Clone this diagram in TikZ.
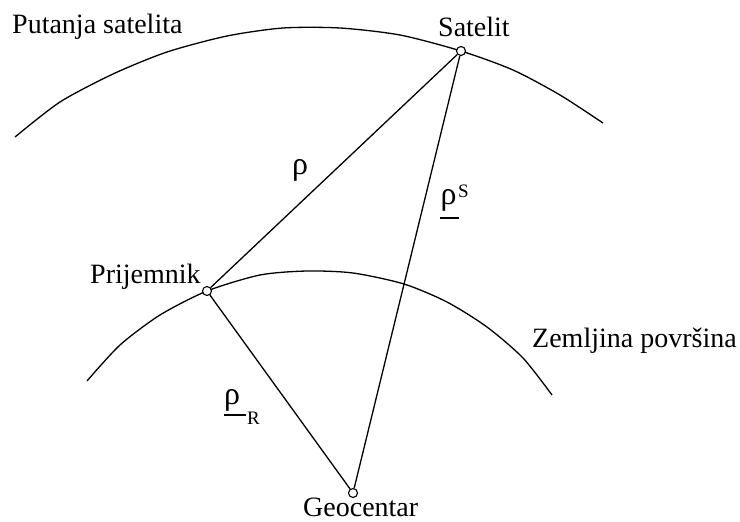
\documentclass[tikz,border=0pt]{standalone}
\usepackage{fontspec}
\setmainfont{Liberation Serif}
\begin{document}
\begin{tikzpicture}[x=1pt,y=-1pt,
  curve/.style={line width=1.3pt, line join=round},
  conn/.style={line width=1.3pt},
  dot/.style={circle, draw, fill=white, line width=1.1pt, minimum size=9pt, inner sep=0pt},
  txt/.style={inner sep=0pt, font=\fontsize{28}{30}\selectfont},
  lbl/.style={inner sep=0pt, font=\fontsize{32}{34}\selectfont},
  suplbl/.style={inner sep=0pt, font=\fontsize{19}{21}\selectfont},
  uline/.style={line width=1.3pt}]
\useasboundingbox (0,0) rectangle (740,522);
% satellite orbit
\draw[curve] plot[smooth, tension=0.45] coordinates {(15,137) (60,102) (113,74) (167,52) (227,36) (283,28) (340,28) (400,35) (461,51) (513,70) (560,95) (603,123)};
% Earth surface
\draw[curve] plot[smooth, tension=0.45] coordinates {(87,381) (120,345) (160,315) (207,291) (260,275) (307,271) (353,273) (404,284) (447,302) (487,327) (523,358) (552,395)};
% points
\node[dot] (sat) at (461,51) {};
\node[dot] (rec) at (207,291) {};
\node[dot] (geo) at (353,493) {};
% connectors
\draw[conn] (sat) -- (rec);
\draw[conn] (sat) -- (geo);
\draw[conn] (rec) -- (geo);
% texts
\node[txt, anchor=base west] (orbitlbl) at (12,33) {Putanja satelita};
\node[txt, anchor=base west] (satlbl) at (438,37) {Satelit};
\node[txt, anchor=base west] (reclbl) at (90,283) {Prijemnik};
\node[txt, anchor=base west] (earthlbl) at (532,347) {Zemljina površina};
\node[txt, anchor=base west] (geolbl) at (303,516) {Geocentar};
% rho labels
\node[lbl] (rho) at (300,170) {ρ};
\node[lbl] (rhoS) at (448.5,200) {ρ};
\node[suplbl, anchor=west] (S) at (458,191) {S};
\draw[uline] ([yshift=-7pt]rhoS.south west) -- ([yshift=-7pt,xshift=2pt]rhoS.south east);
\node[lbl] (rhoR) at (232,400) {ρ};
\node[suplbl, anchor=west] (R) at (247,418) {R};
\draw[uline] ([yshift=-4pt]rhoR.south west) -- ([yshift=-4pt,xshift=6pt]rhoR.south east);
\end{tikzpicture}
\end{document}
